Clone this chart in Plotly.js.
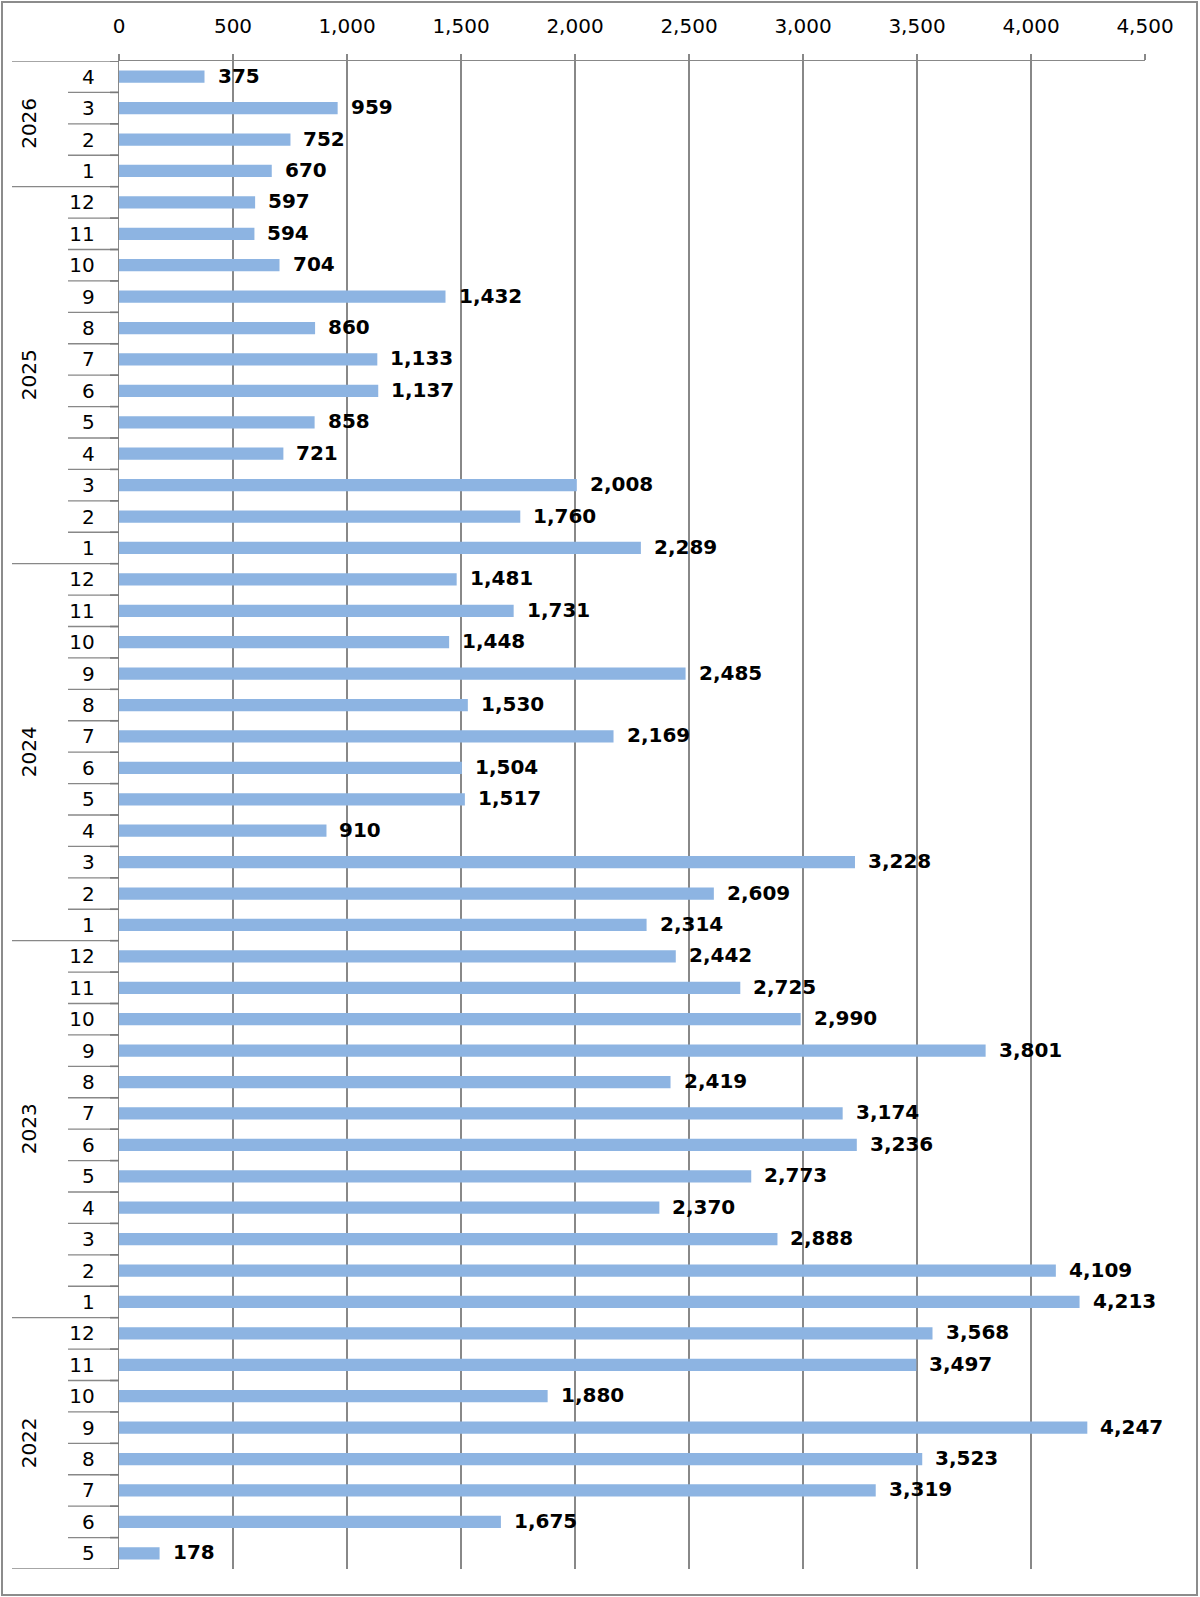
<!DOCTYPE html>
<html>
<head>
<meta charset="utf-8">
<script src="https://cdn.plot.ly/plotly-3.0.1.min.js"></script>
<style>
  html, body { margin: 0; padding: 0; background: #ffffff; }
  #chart { width: 1200px; height: 1597px; }
</style>
</head>
<body>
<div id="chart"></div>
<script>
// Monthly counts, grouped by year (chronological order within each year)
const years = ['2022', '2023', '2024', '2025', '2026'];
const months2022 = ['5', '6', '7', '8', '9', '10', '11', '12'];
const monthsFullYear = ['1', '2', '3', '4', '5', '6', '7', '8', '9', '10', '11', '12'];
const months2026 = ['1', '2', '3', '4'];
const values2022 = [178, 1675, 3319, 3523, 4247, 1880, 3497, 3568];
const values2023 = [4213, 4109, 2888, 2370, 2773, 3236, 3174, 2419, 3801, 2990, 2725, 2442];
const values2024 = [2314, 2609, 3228, 910, 1517, 1504, 2169, 1530, 2485, 1448, 1731, 1481];
const values2025 = [2289, 1760, 2008, 721, 858, 1137, 1133, 860, 1432, 704, 594, 597];
const values2026 = [670, 752, 959, 375];
const xTickValues = [0, 500, 1000, 1500, 2000, 2500, 3000, 3500, 4000, 4500];

const monthsPerYear = [months2022, monthsFullYear, monthsFullYear, monthsFullYear, months2026];
const valuesPerYear = [values2022, values2023, values2024, values2025, values2026];

// Flatten into rows; first row sits at the bottom of the category axis
const keys = [], monthText = [], values = [], groups = [];
years.forEach((yr, i) => {
  const start = keys.length;
  monthsPerYear[i].forEach((m, j) => {
    keys.push(yr + '-' + m);
    monthText.push(m);
    values.push(valuesPerYear[i][j]);
  });
  groups.push({ year: yr, first: start, last: keys.length - 1 });
});

// Page geometry (pixels)
const W = 1200, H = 1597;
const L = 119, R = 1145, T = 61, B = 1569;
const px = x => (x - L) / (R - L);
const py = y => 1 - (y - T) / (B - T);

const GRID = '#888888';
const FONT = 'DejaVu Sans, Verdana, sans-serif';

const shapes = [];
// outer frame
shapes.push({ type: 'rect', xref: 'paper', yref: 'paper',
  x0: px(2), x1: px(1197), y0: py(1595), y1: py(2),
  line: { color: '#8c8c8c', width: 2 }, fillcolor: 'rgba(0,0,0,0)' });

// category separators: short ones between months, long ones between years
const yearBounds = new Set();
groups.forEach(g => { yearBounds.add(g.first - 0.5); yearBounds.add(g.last + 0.5); });
for (let k = 0; k <= keys.length; k++) {
  const yb = k - 0.5;
  const isYear = yearBounds.has(yb);
  shapes.push({ type: 'line', xref: 'paper', yref: 'y',
    x0: px(isYear ? 12 : 68), x1: px(L), y0: yb, y1: yb,
    line: { color: GRID, width: 1.3 } });
  shapes.push({ type: 'line', xref: 'paper', yref: 'y',
    x0: px(L - 9), x1: px(L), y0: yb, y1: yb,
    line: { color: '#7a7a7a', width: 1.6 } });
}

const annotations = [];
// value labels at the end of each bar
values.forEach((v, i) => {
  annotations.push({ x: v, y: keys[i], xref: 'x', yref: 'y',
    text: v.toLocaleString('en-US'), showarrow: false,
    xanchor: 'left', yanchor: 'middle', xshift: 11, yshift: 1,
    font: { family: FONT, size: 20, color: '#000000', weight: 'bold' } });
});
// rotated year labels centred on each group
groups.forEach(g => {
  annotations.push({ x: px(29), y: (g.first + g.last) / 2, xref: 'paper', yref: 'y',
    text: g.year, showarrow: false, textangle: -90,
    xanchor: 'center', yanchor: 'middle',
    font: { family: FONT, size: 20, color: '#000000' } });
});

const trace = {
  type: 'bar', orientation: 'h',
  x: values, y: keys,
  width: 0.39,
  marker: { color: '#8DB4E2', line: { width: 0 } },
  hoverinfo: 'x+y'
};

const layout = {
  width: W, height: H,
  margin: { l: L, r: W - R, t: T, b: H - B, pad: 0 },
  paper_bgcolor: '#ffffff', plot_bgcolor: '#ffffff',
  showlegend: false,
  font: { family: FONT, size: 20, color: '#000000' },
  xaxis: {
    side: 'top', range: [0, 4500], tickmode: 'array',
    tickvals: xTickValues, tickformat: ',d',
    showgrid: true, gridcolor: GRID, gridwidth: 1.3,
    zeroline: false, showline: true, linecolor: GRID, linewidth: 1.3,
    ticks: 'outside', ticklen: 6, tickcolor: GRID, tickwidth: 1.3,
    ticklabelstandoff: 13,
    tickfont: { family: FONT, size: 20, color: '#000000' }
  },
  yaxis: {
    type: 'category', categoryorder: 'array', categoryarray: keys,
    range: [-0.5, keys.length - 0.5],
    tickmode: 'array', tickvals: keys, ticktext: monthText,
    showgrid: false, zeroline: false,
    showline: true, linecolor: GRID, linewidth: 1.3,
    ticks: '', ticklabelstandoff: 19,
    tickfont: { family: FONT, size: 20, color: '#000000' }
  },
  shapes: shapes,
  annotations: annotations
};

Plotly.newPlot('chart', [trace], layout, { displayModeBar: false, staticPlot: true });
</script>
</body>
</html>
